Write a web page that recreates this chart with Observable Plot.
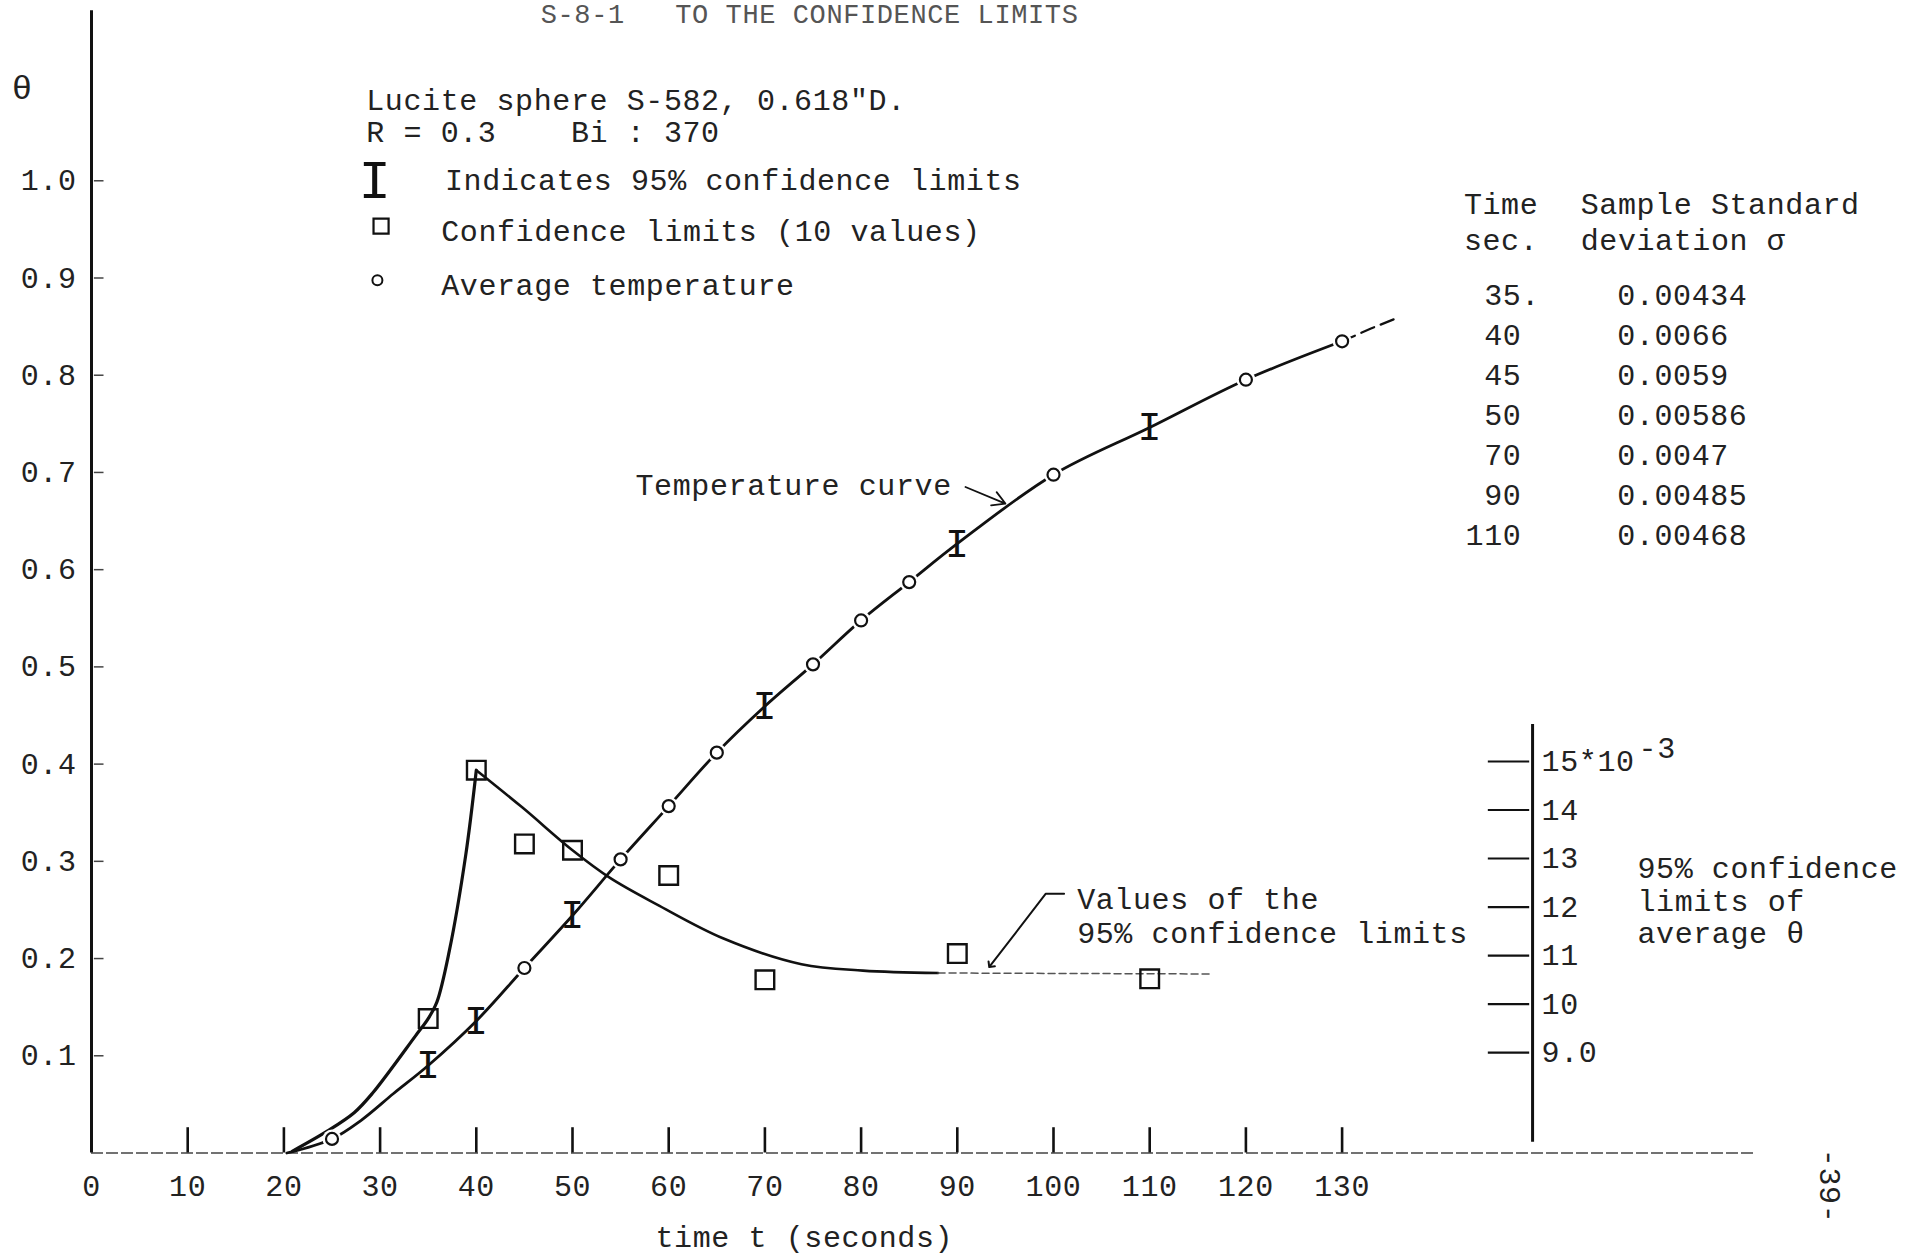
<!DOCTYPE html>
<html>
<head>
<meta charset="utf-8">
<script src="https://cdn.jsdelivr.net/npm/d3@7"></script>
<script src="https://cdn.jsdelivr.net/npm/@observablehq/plot@0.6"></script>
<style>
  html, body { margin: 0; padding: 0; background: #ffffff; }
  #chart svg { display: block; }
</style>
</head>
<body>
<div id="chart"></div>
<script>
// ---------------- data ----------------
// axis ticks
const xTickValues = [10, 20, 30, 40, 50, 60, 70, 80, 90, 100, 110, 120, 130];
const xLabelValues = [0, 10, 20, 30, 40, 50, 60, 70, 80, 90, 100, 110, 120, 130];
const yTickValues = [0.1, 0.2, 0.3, 0.4, 0.5, 0.6, 0.7, 0.8, 0.9, 1.0];
const rightTickValues = [9, 10, 11, 12, 13, 14, 15];          // x 10^-3

// average temperature (circles)
const avgTimes = [25, 45, 55, 60, 65, 75, 80, 85, 100, 120, 130];
const avgTheta = [0.0145, 0.1903, 0.302, 0.3568, 0.4118, 0.5026, 0.5478, 0.5872, 0.6977, 0.7954, 0.8349];

// 95% confidence limit bars on the temperature curve ("I")
const barTimes = [35, 40, 50, 70, 90, 110];
const barTheta = [0.090, 0.1358, 0.2443, 0.4595, 0.6267, 0.7462];

// confidence limit values (squares), units of 10^-3
const limitTimes = [35, 40, 45, 50, 60, 70, 90, 110];
const limitValues = [9.7, 14.82, 13.3, 13.17, 12.65, 10.5, 11.04, 10.52];

// hand drawn temperature curve
const tempCurveT = [20.3, 25, 28, 31.4, 35, 40, 45, 50, 55, 60, 65, 70, 75, 80, 85, 90, 100, 110, 120, 130];
const tempCurveTheta = [0.0, 0.0145, 0.0334, 0.0612, 0.090, 0.1358, 0.1903, 0.2443, 0.302, 0.3568, 0.4118, 0.4595, 0.5026, 0.5478, 0.5872, 0.6267, 0.6977, 0.7462, 0.7954, 0.8349];
const tempTailT = [130, 133, 136];
const tempTailTheta = [0.8349, 0.848, 0.860];

// hand drawn confidence-limit curve (units of 10^-3)
const limitRiseT = [20.9, 24.5, 27.3, 29.2, 33.7, 35, 35.9, 37.2, 38.9, 40];
const limitRiseV = [6.97, 7.38, 7.76, 8.16, 9.35, 9.7, 10.04, 11.1, 13.07, 14.82];
const limitFallT = [40, 44.8, 50, 53.9, 58.8, 65.7, 73.8, 80.2, 88];
const limitFallV = [14.82, 14.05, 13.17, 12.6, 12.05, 11.35, 10.82, 10.69, 10.64];
const limitTailT = [88, 116.5];
const limitTailV = [10.64, 10.62];

// table of sample standard deviations
const tableTimes = [35, 40, 45, 50, 70, 90, 110];
const tableSigma = ["0.00434", "0.0066", "0.0059", "0.00586", "0.0047", "0.00485", "0.00468"];

// ---------------- helpers ----------------
const FONT = "'Liberation Mono', 'DejaVu Sans Mono', monospace";
const INK = "#222";
const LINE = "#111";
// secondary (right) axis: 10^-3 units drawn in the theta frame
const toTheta = v => 0.1033 + 0.0499 * (v - 9);
const rightAxisT = 149.8;

const zip = (a, b) => a.map((x, i) => ({x, y: b[i]}));
const tempCurve = zip(tempCurveT, tempCurveTheta);
const tempTail = zip(tempTailT, tempTailTheta);
const avg = zip(avgTimes, avgTheta);
const bars = zip(barTimes, barTheta);
const limits = limitTimes.map((t, i) => ({x: t, y: toTheta(limitValues[i])}));
const limRise = limitRiseT.map((t, i) => ({x: t, y: toTheta(limitRiseV[i])}));
const limFall = limitFallT.map((t, i) => ({x: t, y: toTheta(limitFallV[i])}));
const limTail = limitTailT.map((t, i) => ({x: t, y: toTheta(limitTailV[i])}));

const note = (text, x, y, o = {}) => Plot.text([text], {
  x: () => x, y: () => y, text: d => d,
  textAnchor: "start", lineAnchor: "middle", fill: INK, ...o
});

const nb = "\u00A0";
const timeColumn = tableTimes.map(t => String(t).padStart(3, nb) + (t === 35 ? "." : "")).join("\n");
const sigmaColumn = tableSigma.join("\n");

const chart = Plot.plot({
  width: 1925,
  height: 1258,
  marginLeft: 91,
  marginRight: 6.2,
  marginTop: 15,
  marginBottom: 105.5,
  x: {domain: [0, 190], axis: null},
  y: {domain: [0, 1.17], axis: null},
  style: {fontFamily: FONT, fontSize: "30px", color: INK, background: "#fff", letterSpacing: "0.6px"},
  marks: [
    // header
    note("S-8-1   TO THE CONFIDENCE LIMITS", 46.7, 1.1824, {lineAnchor: "top", fill: "#555", fontSize: 27}),

    // main axes
    Plot.ruleY([0], {x1: 0, x2: 173, stroke: "#444", strokeWidth: 1.6, strokeDasharray: "12 3"}),
    Plot.ruleX([0], {y1: 0, y2: 1.175, stroke: LINE, strokeWidth: 3}),
    Plot.ruleX(xTickValues, {x: d => d, y1: 0, y2: 0.026, stroke: LINE, strokeWidth: 2.6}),
    Plot.ruleY(yTickValues, {y: d => d, x1: 0.3, x2: 1.3, stroke: "#444", strokeWidth: 1.5}),
    Plot.axisX(xLabelValues, {tickSize: 0, tickPadding: 22, label: null, tickFormat: d => String(d), fill: INK}),
    Plot.axisY(yTickValues, {tickSize: 0, tickPadding: 15, label: null, tickFormat: d => d.toFixed(1), fill: INK}),
    note("θ", -7.2, 1.095, {textAnchor: "middle", fontSize: 34}),
    note("time t (seconds)", 74.1, -0.0865, {textAnchor: "middle"}),
    note("-39-", 180.7, -0.034, {textAnchor: "middle", rotate: 90}),

    // right axis (confidence limits, x 10^-3)
    Plot.ruleX([rightAxisT], {x: d => d, y1: toTheta(7.15), y2: toTheta(15.76), stroke: LINE, strokeWidth: 3}),
    Plot.ruleY(rightTickValues, {y: toTheta, x1: 145.2, x2: 149.5, stroke: LINE, strokeWidth: 2.2}),
    Plot.text(rightTickValues, {x: () => rightAxisT, y: toTheta, dx: 9, textAnchor: "start", fill: INK,
      text: d => d === 15 ? "15*10" : d === 9 ? "9.0" : String(d)}),
    Plot.text([15], {x: () => rightAxisT, y: toTheta, dx: 106, dy: -13, textAnchor: "start", fill: INK, text: () => "-3"}),
    note("95% confidence\nlimits of\naverage θ", 160.7, 0.2598, {lineHeight: 1.083}),

    // confidence-limit curve and squares
    Plot.line(limRise, {x: "x", y: "y", curve: "catmull-rom", stroke: LINE, strokeWidth: 3.2}),
    Plot.line(limFall, {x: "x", y: "y", curve: "catmull-rom", stroke: LINE, strokeWidth: 2.6}),
    Plot.line(limTail, {x: "x", y: "y", stroke: "#555", strokeWidth: 1.5, strokeDasharray: "7 4"}),
    Plot.dot(limits, {x: "x", y: "y", symbol: "square", r: 10.5, stroke: LINE, strokeWidth: 2.4, fill: "none"}),

    // temperature curve, circles and bars
    Plot.line(tempCurve, {x: "x", y: "y", curve: "catmull-rom", stroke: LINE, strokeWidth: 2.8}),
    Plot.line(tempTail, {x: "x", y: "y", stroke: LINE, strokeWidth: 2.2, strokeDasharray: "14 7"}),
    Plot.dot(avg, {x: "x", y: "y", r: 9.5, fill: "#fff", stroke: null}),
    Plot.dot(avg, {x: "x", y: "y", r: 6, fill: "#fff", stroke: LINE, strokeWidth: 2.2}),
    Plot.text(bars, {x: "x", y: "y", text: () => "I", fontSize: 40, fill: LINE, textAnchor: "middle", lineAnchor: "middle"}),

    // annotations
    note("Temperature curve", 56.55, 0.6867),
    Plot.arrow([{x1: 90.85, y1: 0.685, x2: 95.0, y2: 0.668}], {x1: "x1", y1: "y1", x2: "x2", y2: "y2", headLength: 14, strokeWidth: 1.8, stroke: LINE}),
    note("Values of the\n95% confidence limits", 102.46, 0.2448, {lineHeight: 1.147}),
    Plot.line([{x: 101.1, y: 0.2667}, {x: 99.2, y: 0.2667}, {x: 93.45, y: 0.1929}], {x: "x", y: "y", stroke: LINE, strokeWidth: 2, markerEnd: "arrow"}),

    // legend block
    note("Lucite sphere S-582, 0.618\"D.\nR = 0.3" + nb.repeat(4) + "Bi : 370", 28.56, 1.067, {lineHeight: 1.067}),
    Plot.text([{x: 29.46, y: 1.0}], {x: "x", y: "y", text: () => "I", fontSize: 54, fill: LINE, textAnchor: "middle", lineAnchor: "middle"}),
    note("Indicates 95% confidence limits", 36.74, 1.0),
    Plot.dot([{x: 30.1, y: 0.9533}], {x: "x", y: "y", symbol: "square", r: 8.5, stroke: LINE, strokeWidth: 2.2, fill: "none"}),
    note("Confidence limits (10 values)", 36.35, 0.9483),
    Plot.dot([{x: 29.72, y: 0.8977}], {x: "x", y: "y", r: 5, stroke: LINE, strokeWidth: 2, fill: "none"}),
    note("Average temperature", 36.35, 0.8927),

    // table
    note("Time\nsec.", 142.66, 0.9594, {lineHeight: 1.22}),
    note("Sample Standard\ndeviation σ", 154.8, 0.9594, {lineHeight: 1.22}),
    note(timeColumn, 142.83, 0.7621, {lineHeight: 1.333}),
    note(sigmaColumn, 158.6, 0.7621, {lineHeight: 1.333})
  ]
});
document.getElementById("chart").appendChild(chart);
</script>
</body>
</html>
